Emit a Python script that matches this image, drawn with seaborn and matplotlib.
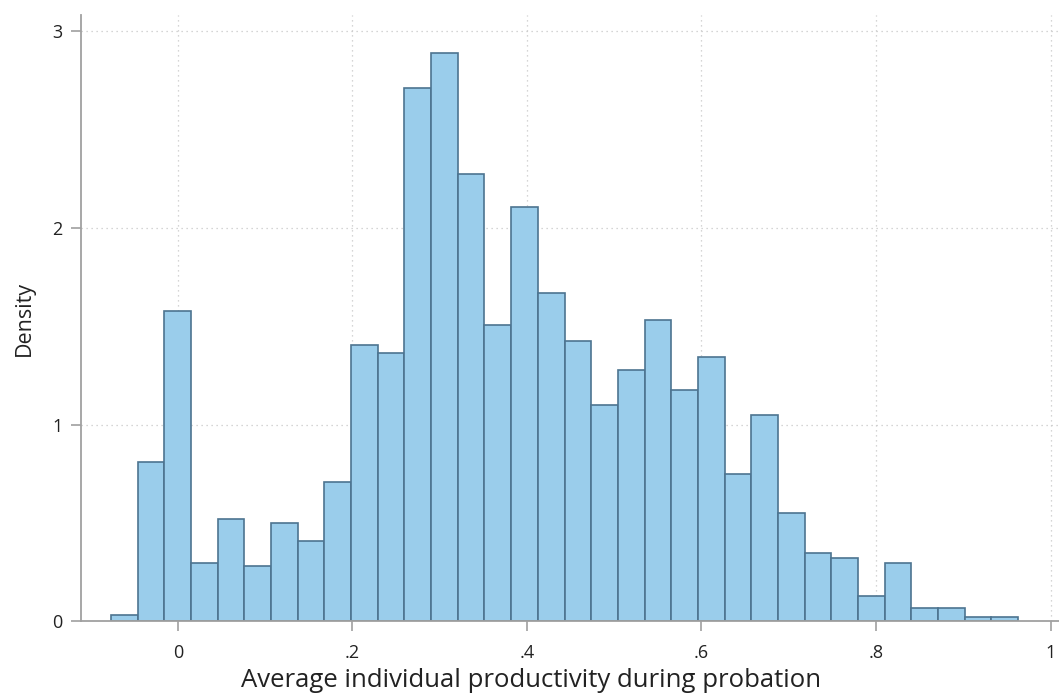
import numpy as np
import pandas as pd
import matplotlib
matplotlib.use("Agg")
import matplotlib.pyplot as plt
import seaborn as sns

# histogram bins
bin_start = -0.0768
bin_width = 0.03058
density = [0.031, 0.81, 1.577, 0.295, 0.522, 0.283, 0.499, 0.409, 0.71, 1.403,
           1.365, 2.711, 2.889, 2.273, 1.506, 2.107, 1.667, 1.425, 1.10, 1.277,
           1.531, 1.176, 1.342, 0.749, 1.049, 0.549, 0.346, 0.321, 0.131, 0.295,
           0.070, 0.070, 0.021, 0.021]
x_ticks = [0, 0.2, 0.4, 0.6, 0.8, 1.0]
x_ticklabels = ["0", ".2", ".4", ".6", ".8", "1"]
y_ticks = [0, 1, 2, 3]

edges = bin_start + bin_width * np.arange(len(density) + 1)
df = pd.DataFrame({
    "prod": (edges[:-1] + edges[1:]) / 2,
    "dens": density,
})

sns.set_style("white")
plt.rcParams['font.family'] = ['Open Sans', 'DejaVu Sans']

fig = plt.figure(figsize=(10.59, 6.94), dpi=100)
ax = fig.add_axes([0.0765, 0.1045, 0.9235, 0.8735])

sns.histplot(data=df, x="prod", weights="dens", bins=list(edges), stat="count",
             color="#9ACDEB", edgecolor="#4D7490", linewidth=1.2, alpha=1,
             ax=ax, zorder=3)

ax.set_xlim(-0.111, 1.0097)
ax.set_ylim(0, 3.08)
ax.set_xticks(x_ticks)
ax.set_xticklabels(x_ticklabels)
ax.set_yticks(y_ticks)

# dotted stata-like grid
for t in x_ticks:
    ax.axvline(t, color="#c8c8c8", linestyle=(0, (1, 3)), linewidth=0.9, zorder=1)
for t in y_ticks[1:]:
    ax.axhline(t, color="#c8c8c8", linestyle=(0, (1, 3)), linewidth=0.9, zorder=1)

for s in ["top", "right"]:
    ax.spines[s].set_visible(False)
for s in ["left", "bottom"]:
    ax.spines[s].set_color("#a0a0a0")
    ax.spines[s].set_linewidth(1.3)
    ax.spines[s].set_zorder(4)

ax.tick_params(axis="both", bottom=True, left=True, direction="out", length=7.5,
               width=1.2, color="#a0a0a0", labelsize=13, labelcolor="#222222", pad=6)
ax.tick_params(axis="x", pad=9)
ax.set_xlabel("Average individual productivity during probation", fontsize=18.5,
              color="#222222")
ax.xaxis.set_label_coords(0.46, -0.077)
ax.set_ylabel("Density", fontsize=15.5, color="#222222", labelpad=12)

fig.savefig("out.png", dpi=100)
